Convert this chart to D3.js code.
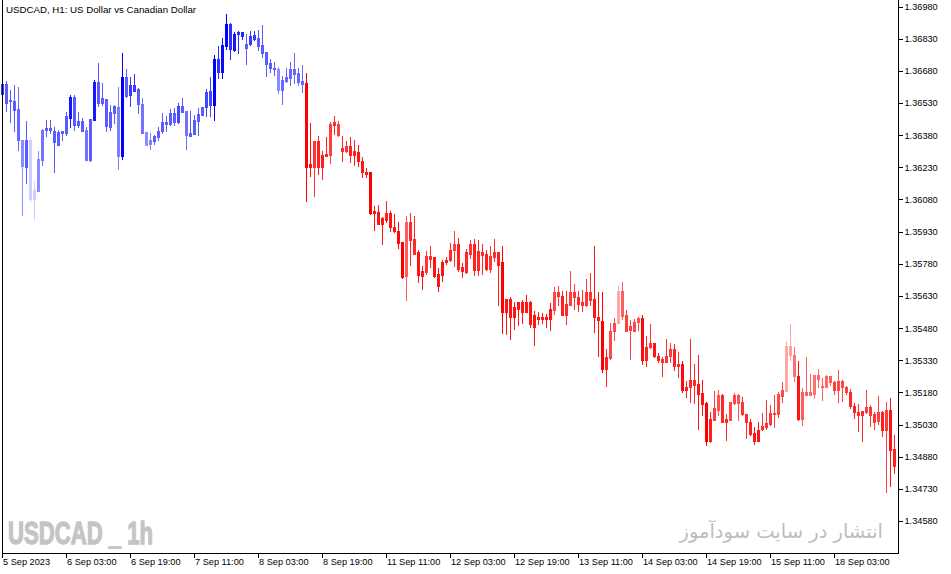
<!DOCTYPE html>
<html>
<head>
<meta charset="utf-8">
<script src="https://cdn.jsdelivr.net/npm/d3@7"></script>
<style>
html, body { margin: 0; padding: 0; background: #fff; }
svg { display: block; }
</style>
</head>
<body>
<div id="chart"></div>
<script>

// USDCAD H1 bars, 5 Sep 2023 11:00 .. 18 Sep 2023 18:00 (server time)
var open = [
  1.36571, 1.36619, 1.36537, 1.36540, 1.36503, 1.36358, 1.36229, 1.36358,
  1.36083, 1.36120, 1.36265, 1.36405, 1.36414, 1.36400, 1.36335, 1.36392,
  1.36392, 1.36459, 1.36560, 1.36428, 1.36448, 1.36405, 1.36262, 1.36451,
  1.36630, 1.36529, 1.36549, 1.36420, 1.36485, 1.36513, 1.36284, 1.36650,
  1.36565, 1.36614, 1.36596, 1.36524, 1.36394, 1.36338, 1.36353, 1.36372,
  1.36397, 1.36443, 1.36434, 1.36485, 1.36443, 1.36516, 1.36493, 1.36378,
  1.36384, 1.36447, 1.36476, 1.36509, 1.36586, 1.36521, 1.36735, 1.36676,
  1.36797, 1.36899, 1.36776, 1.36850, 1.36863, 1.36804, 1.36804, 1.36847,
  1.36835, 1.36801, 1.36766, 1.36715, 1.36695, 1.36687, 1.36591, 1.36633,
  1.36648, 1.36687, 1.36669, 1.36633, 1.36624, 1.36229, 1.36229, 1.36353,
  1.36229, 1.36283, 1.36288, 1.36428, 1.36433, 1.36322, 1.36304, 1.36330,
  1.36288, 1.36301, 1.36260, 1.36210, 1.36206, 1.36015, 1.36021, 1.35967,
  1.35982, 1.36019, 1.35951, 1.35934, 1.35880, 1.35721, 1.35977, 1.35897,
  1.35833, 1.35724, 1.35740, 1.35818, 1.35810, 1.35734, 1.35729, 1.35786,
  1.35796, 1.35845, 1.35873, 1.35763, 1.35741, 1.35827, 1.35873, 1.35752,
  1.35834, 1.35827, 1.35757, 1.35811, 1.35833, 1.35786, 1.35553, 1.35615,
  1.35533, 1.35570, 1.35600, 1.35556, 1.35600, 1.35483, 1.35530, 1.35524,
  1.35530, 1.35524, 1.35566, 1.35647, 1.35631, 1.35543, 1.35589, 1.35647,
  1.35625, 1.35589, 1.35589, 1.35647, 1.35617, 1.35532, 1.35514, 1.35291,
  1.35341, 1.35465, 1.35504, 1.35654, 1.35543, 1.35470, 1.35508, 1.35507,
  1.35527, 1.35330, 1.35392, 1.35410, 1.35352, 1.35337, 1.35320, 1.35348,
  1.35384, 1.35302, 1.35314, 1.35193, 1.35204, 1.35240, 1.35221, 1.35178,
  1.35131, 1.34952, 1.35053, 1.35100, 1.35170, 1.35041, 1.35049, 1.35131,
  1.35167, 1.35136, 1.35081, 1.35042, 1.34991, 1.34955, 1.35007, 1.35019,
  1.35033, 1.35084, 1.35077, 1.35165, 1.35188, 1.35395, 1.35356, 1.35258,
  1.35058, 1.35182, 1.35170, 1.35174, 1.35263, 1.35212, 1.35204, 1.35255,
  1.35227, 1.35190, 1.35235, 1.35205, 1.35182, 1.35118, 1.35089, 1.35073,
  1.35089, 1.35112, 1.35077, 1.35045, 1.35089, 1.35004, 1.35100, 1.34917
];
var high = [
  1.36633, 1.36633, 1.36591, 1.36614, 1.36603, 1.36358, 1.36444, 1.36369,
  1.36164, 1.36304, 1.36408, 1.36451, 1.36451, 1.36420, 1.36405, 1.36400,
  1.36490, 1.36566, 1.36568, 1.36490, 1.36459, 1.36420, 1.36456, 1.36638,
  1.36718, 1.36622, 1.36549, 1.36521, 1.36520, 1.36603, 1.36765, 1.36687,
  1.36653, 1.36666, 1.36599, 1.36552, 1.36394, 1.36389, 1.36381, 1.36420,
  1.36485, 1.36470, 1.36502, 1.36506, 1.36529, 1.36552, 1.36493, 1.36493,
  1.36475, 1.36506, 1.36513, 1.36596, 1.36653, 1.36754, 1.36797, 1.36832,
  1.36945, 1.36902, 1.36863, 1.36867, 1.36863, 1.36852, 1.36866, 1.36866,
  1.36871, 1.36894, 1.36766, 1.36735, 1.36723, 1.36697, 1.36658, 1.36692,
  1.36723, 1.36762, 1.36692, 1.36707, 1.36669, 1.36436, 1.36353, 1.36377,
  1.36304, 1.36370, 1.36443, 1.36470, 1.36447, 1.36377, 1.36353, 1.36369,
  1.36358, 1.36335, 1.36276, 1.36226, 1.36206, 1.36050, 1.36055, 1.35996,
  1.36074, 1.36024, 1.36012, 1.35977, 1.35880, 1.36001, 1.36019, 1.36004,
  1.35842, 1.35768, 1.35841, 1.35864, 1.35810, 1.35760, 1.35799, 1.35810,
  1.35876, 1.35934, 1.35900, 1.35783, 1.35850, 1.35889, 1.35897, 1.35892,
  1.35873, 1.35845, 1.35864, 1.35897, 1.35833, 1.35861, 1.35617, 1.35623,
  1.35600, 1.35600, 1.35612, 1.35636, 1.35605, 1.35561, 1.35555, 1.35550,
  1.35546, 1.35597, 1.35670, 1.35675, 1.35651, 1.35651, 1.35747, 1.35685,
  1.35654, 1.35659, 1.35710, 1.35737, 1.35864, 1.35648, 1.35648, 1.35384,
  1.35504, 1.35527, 1.35682, 1.35695, 1.35566, 1.35516, 1.35522, 1.35532,
  1.35543, 1.35442, 1.35500, 1.35410, 1.35364, 1.35345, 1.35431, 1.35410,
  1.35407, 1.35369, 1.35325, 1.35235, 1.35431, 1.35314, 1.35356, 1.35240,
  1.35136, 1.35089, 1.35188, 1.35193, 1.35173, 1.35081, 1.35136, 1.35178,
  1.35173, 1.35159, 1.35081, 1.35058, 1.35019, 1.35042, 1.35084, 1.35146,
  1.35123, 1.35170, 1.35181, 1.35229, 1.35421, 1.35501, 1.35392, 1.35328,
  1.35201, 1.35344, 1.35266, 1.35263, 1.35291, 1.35247, 1.35263, 1.35258,
  1.35235, 1.35286, 1.35240, 1.35212, 1.35198, 1.35131, 1.35128, 1.35095,
  1.35193, 1.35120, 1.35087, 1.35165, 1.35092, 1.35136, 1.35154, 1.34983
];
var low = [
  1.36568, 1.36493, 1.36440, 1.36400, 1.36311, 1.36009, 1.36156, 1.36071,
  1.35990, 1.36120, 1.36239, 1.36374, 1.36389, 1.36207, 1.36335, 1.36358,
  1.36381, 1.36420, 1.36405, 1.36420, 1.36400, 1.36265, 1.36260, 1.36451,
  1.36516, 1.36520, 1.36400, 1.36405, 1.36436, 1.36223, 1.36268, 1.36560,
  1.36516, 1.36586, 1.36485, 1.36392, 1.36332, 1.36316, 1.36338, 1.36358,
  1.36389, 1.36400, 1.36425, 1.36428, 1.36436, 1.36487, 1.36316, 1.36374,
  1.36384, 1.36381, 1.36475, 1.36467, 1.36467, 1.36451, 1.36648, 1.36648,
  1.36782, 1.36734, 1.36774, 1.36762, 1.36827, 1.36712, 1.36801, 1.36824,
  1.36777, 1.36743, 1.36656, 1.36676, 1.36661, 1.36576, 1.36524, 1.36630,
  1.36614, 1.36622, 1.36614, 1.36583, 1.36074, 1.36187, 1.36094, 1.36200,
  1.36176, 1.36283, 1.36252, 1.36384, 1.36377, 1.36260, 1.36301, 1.36254,
  1.36241, 1.36234, 1.36183, 1.36183, 1.36013, 1.35939, 1.35965, 1.35873,
  1.35977, 1.35931, 1.35926, 1.35853, 1.35715, 1.35609, 1.35772, 1.35825,
  1.35693, 1.35664, 1.35734, 1.35763, 1.35716, 1.35651, 1.35698, 1.35779,
  1.35791, 1.35768, 1.35744, 1.35716, 1.35737, 1.35806, 1.35729, 1.35729,
  1.35734, 1.35752, 1.35740, 1.35794, 1.35589, 1.35457, 1.35454, 1.35431,
  1.35477, 1.35496, 1.35504, 1.35555, 1.35483, 1.35403, 1.35499, 1.35504,
  1.35483, 1.35473, 1.35546, 1.35589, 1.35539, 1.35501, 1.35589, 1.35570,
  1.35558, 1.35558, 1.35581, 1.35586, 1.35460, 1.35352, 1.35274, 1.35209,
  1.35337, 1.35426, 1.35504, 1.35524, 1.35465, 1.35337, 1.35465, 1.35473,
  1.35314, 1.35305, 1.35387, 1.35345, 1.35320, 1.35258, 1.35320, 1.35320,
  1.35283, 1.35251, 1.35181, 1.35157, 1.35136, 1.35131, 1.35011, 1.35076,
  1.34934, 1.34948, 1.35053, 1.35073, 1.35041, 1.34960, 1.35049, 1.35128,
  1.35049, 1.35073, 1.34965, 1.34980, 1.34937, 1.34952, 1.35004, 1.35011,
  1.35030, 1.35018, 1.35064, 1.35134, 1.35188, 1.35333, 1.35232, 1.35053,
  1.35027, 1.35167, 1.35170, 1.35154, 1.35204, 1.35146, 1.35204, 1.35216,
  1.35174, 1.35134, 1.35142, 1.35174, 1.35108, 1.35061, 1.35002, 1.34955,
  1.35084, 1.35022, 1.35010, 1.35033, 1.34976, 1.34715, 1.34743, 1.34802
];
var close = [
  1.36619, 1.36532, 1.36543, 1.36498, 1.36358, 1.36234, 1.36358, 1.36083,
  1.36125, 1.36268, 1.36405, 1.36414, 1.36402, 1.36346, 1.36395, 1.36400,
  1.36467, 1.36560, 1.36428, 1.36447, 1.36400, 1.36265, 1.36456, 1.36630,
  1.36529, 1.36552, 1.36423, 1.36490, 1.36516, 1.36284, 1.36650, 1.36563,
  1.36614, 1.36586, 1.36524, 1.36392, 1.36332, 1.36358, 1.36374, 1.36400,
  1.36443, 1.36434, 1.36482, 1.36443, 1.36516, 1.36490, 1.36381, 1.36389,
  1.36451, 1.36479, 1.36510, 1.36580, 1.36521, 1.36735, 1.36676, 1.36801,
  1.36899, 1.36780, 1.36852, 1.36863, 1.36844, 1.36788, 1.36843, 1.36829,
  1.36797, 1.36765, 1.36712, 1.36692, 1.36687, 1.36591, 1.36638, 1.36653,
  1.36687, 1.36666, 1.36630, 1.36619, 1.36229, 1.36246, 1.36353, 1.36229,
  1.36288, 1.36293, 1.36433, 1.36439, 1.36381, 1.36308, 1.36330, 1.36288,
  1.36304, 1.36257, 1.36206, 1.36200, 1.36016, 1.36024, 1.35967, 1.35993,
  1.36019, 1.35950, 1.35931, 1.35877, 1.35718, 1.35973, 1.35889, 1.35827,
  1.35729, 1.35745, 1.35818, 1.35804, 1.35721, 1.35675, 1.35788, 1.35799,
  1.35845, 1.35873, 1.35757, 1.35744, 1.35833, 1.35873, 1.35752, 1.35838,
  1.35822, 1.35757, 1.35817, 1.35833, 1.35775, 1.35553, 1.35617, 1.35533,
  1.35577, 1.35600, 1.35556, 1.35600, 1.35501, 1.35539, 1.35524, 1.35530,
  1.35524, 1.35570, 1.35647, 1.35628, 1.35543, 1.35594, 1.35647, 1.35623,
  1.35594, 1.35600, 1.35647, 1.35612, 1.35530, 1.35516, 1.35291, 1.35345,
  1.35468, 1.35504, 1.35654, 1.35538, 1.35465, 1.35491, 1.35468, 1.35527,
  1.35330, 1.35392, 1.35410, 1.35348, 1.35333, 1.35320, 1.35352, 1.35384,
  1.35302, 1.35314, 1.35193, 1.35206, 1.35240, 1.35216, 1.35174, 1.35128,
  1.34952, 1.35058, 1.35105, 1.35170, 1.35042, 1.35058, 1.35136, 1.35167,
  1.35131, 1.35081, 1.35041, 1.34986, 1.34955, 1.35004, 1.35025, 1.35038,
  1.35084, 1.35077, 1.35174, 1.35193, 1.35395, 1.35356, 1.35255, 1.35056,
  1.35182, 1.35170, 1.35181, 1.35263, 1.35244, 1.35204, 1.35255, 1.35227,
  1.35190, 1.35235, 1.35204, 1.35181, 1.35115, 1.35087, 1.35073, 1.35095,
  1.35112, 1.35073, 1.35042, 1.35089, 1.35004, 1.35100, 1.34913, 1.34836
];
// trend strength of the colouring indicator: + blue (up), - red (down)
var strength = [
  0.75, 0.6, 0.6, 0.6, 0.55, 0.4, 0.6, 0.1,
  0.1, 0.4, 0.5, 0.6, 0.6, 0.6, 0.6, 0.6,
  0.6, 0.9, 0.6, 0.6, 0.6, 0.5, 0.6, 0.9,
  0.6, 0.6, 0.6, 0.6, 0.6, 0.45, 1.0, 0.6,
  0.75, 0.75, 0.6, 0.5, 0.4, 0.45, 0.6, 0.6,
  0.6, 0.6, 0.6, 0.6, 0.7, 0.6, 0.5, 0.6,
  0.6, 0.6, 0.6, 0.7, 0.7, 1.0, 0.8, 0.95,
  1.0, 0.8, 0.9, 0.8, 0.85, 0.6, 0.75, 0.75,
  0.6, 0.6, 0.6, 0.6, 0.6, 0.4, 0.55, 0.55,
  0.55, 0.55, 0.55, 0.55, -1.0, -0.9, -0.75, -0.85,
  -0.85, -0.85, -0.7, -0.8, -0.7, -0.8, -0.75, -0.85,
  -0.85, -0.9, -0.9, -0.9, -1.0, -0.9, -0.9, -0.9,
  -0.85, -0.9, -0.9, -0.95, -1.0, -0.55, -0.8, -0.8,
  -0.9, -0.9, -0.75, -0.8, -0.9, -0.9, -0.9, -0.85,
  -0.8, -0.7, -0.85, -0.85, -0.8, -0.75, -0.85, -0.8,
  -0.8, -0.85, -0.75, -0.8, -0.85, -1.0, -0.9, -0.9,
  -0.9, -0.9, -0.9, -0.9, -0.9, -0.9, -0.9, -0.9,
  -0.9, -0.9, -0.65, -0.75, -0.85, -0.8, -0.7, -0.75,
  -0.8, -0.8, -0.75, -0.75, -0.9, -0.9, -1.0, -0.85,
  -0.65, -0.65, -0.15, -0.55, -0.7, -0.7, -0.65, -0.6,
  -0.95, -0.85, -0.75, -0.9, -0.85, -0.8, -0.75, -0.7,
  -0.85, -0.8, -0.95, -0.85, -0.8, -0.8, -0.9, -0.9,
  -1.0, -0.85, -0.7, -0.6, -0.8, -0.8, -0.65, -0.65,
  -0.6, -0.75, -0.8, -0.85, -0.9, -0.9, -0.75, -0.75,
  -0.75, -0.7, -0.65, -0.65, -0.15, -0.2, -0.45, -0.9,
  -0.55, -0.55, -0.5, -0.45, -0.5, -0.55, -0.5, -0.55,
  -0.7, -0.65, -0.65, -0.7, -0.8, -0.85, -0.8, -0.8,
  -0.7, -0.75, -0.75, -0.7, -0.85, -0.7, -0.9, -0.85
];

var priceTicks = [1.36980, 1.36830, 1.36680, 1.36530, 1.36380, 1.36230, 1.36080, 1.35930,
                  1.35780, 1.35630, 1.35480, 1.35330, 1.35180, 1.35030, 1.34880, 1.34730, 1.34580];
var timeTicks = ['2023-09-05 11:00', '2023-09-06 03:00', '2023-09-06 19:00', '2023-09-07 11:00',
                 '2023-09-08 03:00', '2023-09-08 19:00', '2023-09-11 11:00', '2023-09-12 03:00',
                 '2023-09-12 19:00', '2023-09-13 11:00', '2023-09-14 03:00', '2023-09-14 19:00',
                 '2023-09-15 11:00', '2023-09-18 03:00'];
var timeLabels = ['5 Sep 2023', '6 Sep 03:00', '6 Sep 19:00', '7 Sep 11:00', '8 Sep 03:00',
                  '8 Sep 19:00', '11 Sep 11:00', '12 Sep 03:00', '12 Sep 19:00', '13 Sep 11:00',
                  '14 Sep 03:00', '14 Sep 19:00', '15 Sep 11:00', '18 Sep 03:00'];

var TITLE = 'USDCAD, H1:  US Dollar vs Canadian Dollar';
var WATERMARK = 'USDCAD _ 1h';
var SITE = 'انتشار در سایت سودآموز';

var fmtTime = d3.timeFormat('%Y-%m-%d %H:%M');

// hourly bar times, market closed over the weekend
var times = [];
var t = d3.timeParse('%Y-%m-%d %H:%M')(timeTicks[0]);
while (times.length < open.length) {
    var wd = t.getDay();
    if (wd != 0 && wd != 6) {
        times.push(fmtTime(t));
    }
    t = d3.timeHour.offset(t, 1);
}

var bars = times.map(function(d, i) {
    return {time: d, o: open[i], h: high[i], l: low[i], c: close[i], s: strength[i]};
});

var outer_width = 951, outer_height = 574;
var frame = {left: 2, right: 898, bottom: 553};

var sx = d3.scaleBand()
    .domain(times)
    .range([0, 896]);
var sy = d3.scaleLinear()
    .domain([1.34580, 1.36980])
    .range([521, 6.5]);

var blue = d3.interpolateRgb('#e4e7ff', '#0000ff');
var red = d3.interpolateRgb('#ffcccc', '#ff0000');
function color(s) {
    return s >= 0 ? blue(s) : red(-s);
}
function cx(d) {
    return Math.floor(sx(d.time) + sx.bandwidth() / 2) + 0.5;
}

var svg = d3.select('#chart').append('svg')
    .attr('width', outer_width)
    .attr('height', outer_height);

svg.append('rect')
    .attr('width', outer_width)
    .attr('height', outer_height)
    .attr('fill', '#ffffff');

// watermarks
svg.append('text')
    .attr('x', 8)
    .attr('y', 544)
    .attr('font-family', '"Liberation Sans", Arial, sans-serif')
    .attr('font-weight', 'bold')
    .attr('font-size', 32)
    .attr('textLength', 145)
    .attr('lengthAdjust', 'spacingAndGlyphs')
    .attr('fill', '#c4c4c4')
    .attr('stroke', '#c4c4c4')
    .attr('stroke-width', 1.3)
    .text(WATERMARK);

svg.append('text')
    .attr('x', 883)
    .attr('y', 538)
    .attr('text-anchor', 'end')
    .attr('font-family', '"DejaVu Sans", sans-serif')
    .attr('font-size', 19.5)
    .attr('fill', '#bdbdbd')
    .text(SITE);

var g = svg.append('g');

var candle = g.selectAll('.candle').data(bars).enter()
    .append('g')
    .attr('class', 'candle')
    .attr('shape-rendering', 'crispEdges');

candle.append('line')
    .attr('x1', cx)
    .attr('x2', cx)
    .attr('y1', function(d) { return Math.round(sy(d.h)); })
    .attr('y2', function(d) { return Math.round(sy(d.l)) + 1; })
    .attr('stroke', function(d) { return color(d.s); })
    .attr('stroke-width', 1);

candle.append('rect')
    .attr('x', function(d) { return cx(d) - 1.5; })
    .attr('y', function(d) { return Math.round(sy(Math.max(d.o, d.c))); })
    .attr('width', 3)
    .attr('height', function(d) {
        return Math.max(1, Math.round(sy(Math.min(d.o, d.c))) - Math.round(sy(Math.max(d.o, d.c))) + 1);
    })
    .attr('fill', function(d) { return color(d.s); });

// faint bars get a dotted core, as the terminal draws them
candle.filter(function(d) { return d.s < 0 && d.s > -0.25; })
    .append('line')
    .attr('x1', cx)
    .attr('x2', cx)
    .attr('y1', function(d) { return Math.round(sy(Math.max(d.o, d.c))) + 1; })
    .attr('y2', function(d) { return Math.round(sy(Math.min(d.o, d.c))); })
    .attr('stroke', '#ff9090')
    .attr('stroke-dasharray', '1,1');

// frame
var fr = svg.append('g')
    .attr('stroke', '#000')
    .attr('shape-rendering', 'crispEdges');
fr.append('line').attr('x1', frame.left + 0.5).attr('x2', frame.left + 0.5).attr('y1', 0).attr('y2', frame.bottom + 0.5);
fr.append('line').attr('x1', frame.right + 0.5).attr('x2', frame.right + 0.5).attr('y1', 0).attr('y2', frame.bottom + 0.5);
fr.append('line').attr('x1', frame.left).attr('x2', frame.right + 1).attr('y1', frame.bottom + 0.5).attr('y2', frame.bottom + 0.5);

// axes
var ay = d3.axisRight(sy)
    .tickValues(priceTicks)
    .tickSize(4)
    .tickPadding(2)
    .tickFormat(d3.format('.5f'));
var gy = svg.append('g')
    .attr('transform', 'translate(' + (frame.right + 0.5) + ', 0)')
    .call(ay);

var ax = d3.axisBottom(sx)
    .tickValues(timeTicks)
    .tickSize(4)
    .tickFormat(function(d, i) { return timeLabels[i]; });
var gx = svg.append('g')
    .attr('transform', 'translate(0, ' + (frame.bottom + 0.5) + ')')
    .call(ax);

[gx, gy].forEach(function(a) {
    a.select('.domain').remove();
    a.attr('font-family', '"Liberation Sans", Arial, sans-serif')
     .attr('font-size', 9.2);
    a.selectAll('.tick line').attr('shape-rendering', 'crispEdges');
    a.selectAll('.tick text').attr('fill', '#000');
});
gx.selectAll('.tick text')
    .attr('text-anchor', 'start')
    .attr('x', 1)
    .attr('y', 5)
    .attr('dy', '0.71em');

svg.append('text')
    .attr('x', 6)
    .attr('y', 13)
    .attr('font-family', '"Liberation Sans", Arial, sans-serif')
    .attr('font-size', 9.7)
    .attr('fill', '#000')
    .text(TITLE);

</script>
</body>
</html>
